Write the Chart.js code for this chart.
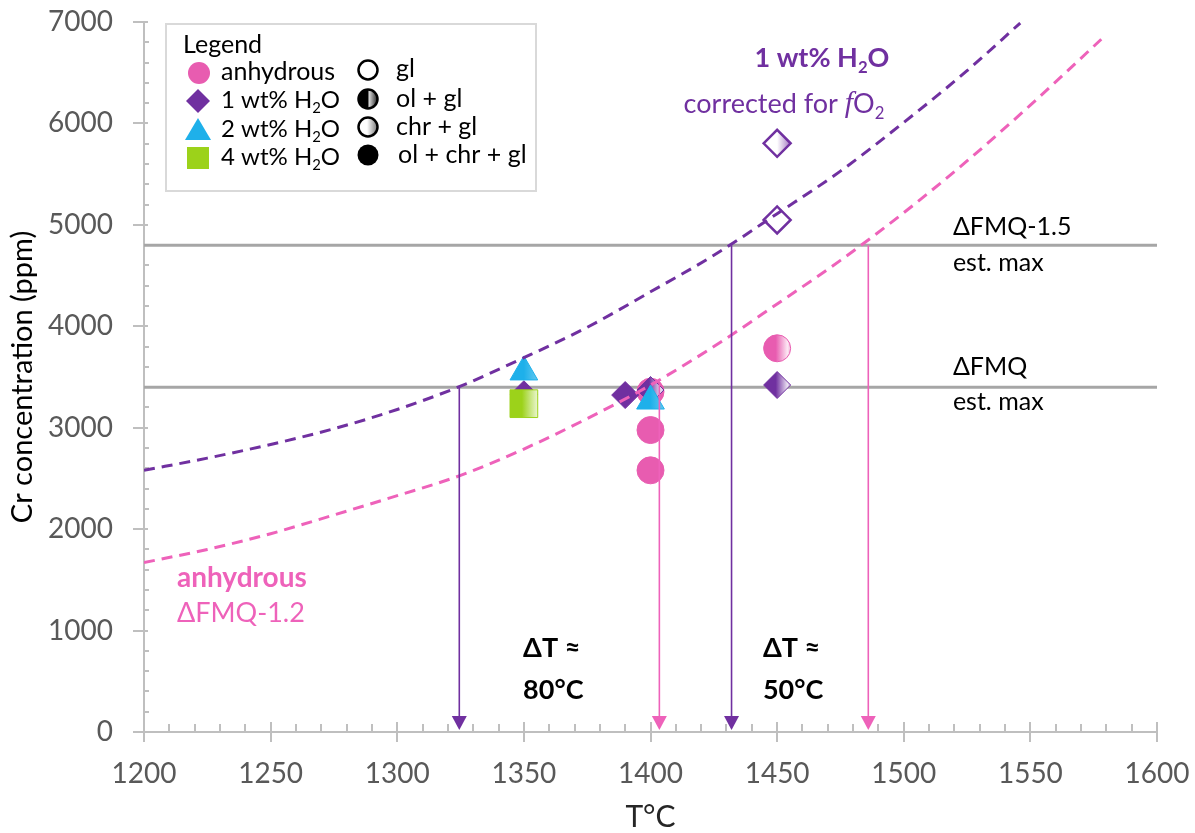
<!DOCTYPE html>
<html><head><meta charset="utf-8">
<script src="https://cdn.jsdelivr.net/npm/chart.js@4.4.1/dist/chart.umd.min.js"></script>
<style>
html,body{margin:0;padding:0;background:#fff;}
#wrap{position:relative;width:1195px;height:833px;}
</style></head><body>
<div id="wrap"><canvas id="c" width="1195" height="833"></canvas></div>
<script>
const FONT = 'Lato, "Open Sans", sans-serif';

// ---- data ----
const anhydrousT = [1400, 1400, 1400, 1450];
const anhydrousCr = [3355, 2977, 2580, 3783];
const anhydrousPhase = ['ol+chr+gl', 'ol+chr+gl', 'ol+chr+gl', 'ol+gl'];

const h2o1T = [1350, 1390, 1400, 1450, 1450, 1450];
const h2o1Cr = [3330, 3322, 3372, 3421, 5048, 5804];
const h2o1Phase = ['ol+chr+gl', 'ol+chr+gl', 'ol+gl', 'ol+gl', 'gl', 'chr+gl'];

const h2o2T = [1350, 1400];
const h2o2Cr = [3550, 3263];
const h2o2Phase = ['subtle', 'subtle'];

const h2o4T = [1350];
const h2o4Cr = [3237];
const h2o4Phase = ['ol+gl'];

// trend curves
const curveH2oT = [1200, 1225, 1250, 1275, 1300, 1325, 1350, 1375, 1400, 1425, 1450, 1475, 1500, 1525, 1546];
const curveH2oCr = [2580, 2700, 2835, 2990, 3180, 3410, 3690, 3990, 4340, 4700, 5110, 5530, 6010, 6520, 6990];
const curveAnhT = [1200, 1225, 1250, 1275, 1300, 1325, 1350, 1375, 1400, 1425, 1450, 1475, 1500, 1525, 1550, 1578];
const curveAnhCr = [1670, 1800, 1955, 2140, 2330, 2530, 2790, 3090, 3420, 3800, 4220, 4650, 5120, 5630, 6180, 6830];

// est. max reference levels
const refLevels = [4800, 3400];

// temperature arrows (x, start level)
const arrowT = [1324.5, 1403.5, 1432, 1486];
const arrowTop = [3400, 3430, 4800, 4800];

// ticks
const xTickValues = [1200, 1250, 1300, 1350, 1400, 1450, 1500, 1550, 1600];
const xTickLabels = ['1200', '1250', '1300', '1350', '1400', '1450', '1500', '1550', '1600'];
const yTickValues = [0, 1000, 2000, 3000, 4000, 5000, 6000, 7000];
const yTickLabels = ['0', '1000', '2000', '3000', '4000', '5000', '6000', '7000'];

// ---- colours ----
const PINK = '#E85CB0';
const PINK_LINE = '#EE62BA';
const PURPLE = '#7030A0';
const CYAN = '#1EB0EA';
const GREEN = '#9CD21A';
const GRAY = '#A6A6A6';

function mix(c1, c2, t) {
  const a = parseInt(c1.slice(1), 16), b = parseInt(c2.slice(1), 16);
  const r = Math.round(((a >> 16) & 255) * (1 - t) + ((b >> 16) & 255) * t);
  const g = Math.round(((a >> 8) & 255) * (1 - t) + ((b >> 8) & 255) * t);
  const bl = Math.round((a & 255) * (1 - t) + (b & 255) * t);
  return `rgb(${r},${g},${bl})`;
}

function makeFill(color, phases, radius) {
  return ctx => {
    if (ctx.type !== 'data') return color;
    const chart = ctx.chart;
    const ph = phases[ctx.dataIndex];
    if (ph === 'ol+chr+gl') return color;
    if (ph === 'gl') return '#ffffff';
    const xs = chart.scales && chart.scales.x;
    const xv = ctx.parsed ? ctx.parsed.x : (ctx.raw ? ctx.raw.x : NaN);
    const px = xs ? xs.getPixelForValue(xv) : NaN;
    if (!isFinite(px)) return color;
    const g = chart.ctx.createLinearGradient(px - radius, 0, px + radius, 0);
    if (ph === 'ol+gl') {
      g.addColorStop(0, color); g.addColorStop(0.45, color);
      g.addColorStop(0.88, mix(color, '#ffffff', 0.85)); g.addColorStop(1, mix(color, '#ffffff', 0.6));
    } else if (ph === 'subtle') {
      g.addColorStop(0, color); g.addColorStop(0.5, color);
      g.addColorStop(1, mix(color, '#ffffff', 0.35));
    } else {
      g.addColorStop(0, '#ffffff'); g.addColorStop(0.5, '#ffffff');
      g.addColorStop(1, mix(color, '#ffffff', 0.35));
    }
    return g;
  };
}
function makeBorderWidth(phases) {
  return ctx => {
    const ph = phases[ctx.dataIndex];
    return (ph === 'gl' || ph === 'chr+gl') ? 2.5 : 1;
  };
}
const pts = (xs, ys) => xs.map((x, i) => ({x, y: ys[i]}));

// ---- text helpers ----
function drawRich(ctx, x, y, segs, opt) {
  let total = 0;
  const parts = segs.map(sg => {
    const s = typeof sg === 'string' ? {t: sg} : sg;
    const size = s.sub ? opt.size * 0.62 : opt.size;
    const font = s.ital ? `italic ${opt.weight} ${size * 1.1}px "Liberation Serif", "DejaVu Serif", serif`
                        : `${opt.weight} ${size}px ${FONT}`;
    ctx.font = font;
    const w = ctx.measureText(s.t).width;
    total += w;
    return {t: s.t, font, w, dy: s.sub ? opt.size * 0.34 : 0};
  });
  let cx = opt.align === 'center' ? x - total / 2 : x;
  ctx.fillStyle = opt.color; ctx.textBaseline = 'middle'; ctx.textAlign = 'left';
  parts.forEach(p => { ctx.font = p.font; ctx.fillText(p.t, cx, y + p.dy); cx += p.w; });
}

// annotations in data coordinates
const notes = [
  {x: 1467.7, y: 6645, segs: ['1 wt% H', {t: '2', sub: 1}, 'O'], size: 27, weight: 'bold', color: PURPLE, align: 'center'},
  {x: 1452.7, y: 6192, segs: ['corrected for ', {t: 'f', ital: 1}, 'O', {t: '2', sub: 1}], size: 27, weight: 'normal', color: PURPLE, align: 'center'},
  {x: 1519.4, y: 4979, segs: ['ΔFMQ-1.5'], size: 25, weight: 'normal', color: '#000', align: 'left'},
  {x: 1519.4, y: 4624, segs: ['est. max'], size: 25, weight: 'normal', color: '#000', align: 'left'},
  {x: 1519.4, y: 3599, segs: ['ΔFMQ'], size: 25, weight: 'normal', color: '#000', align: 'left'},
  {x: 1519.4, y: 3253, segs: ['est. max'], size: 25, weight: 'normal', color: '#000', align: 'left'},
  {x: 1213, y: 1518, segs: ['anhydrous'], size: 28, weight: 'bold', color: PINK_LINE, align: 'left'},
  {x: 1213, y: 1173, segs: ['ΔFMQ-1.2'], size: 27, weight: 'normal', color: PINK_LINE, align: 'left'},
  {x: 1349.7, y: 828, segs: ['ΔT ≈'], size: 27, weight: 'bold', color: '#000', align: 'left'},
  {x: 1349.7, y: 414, segs: ['80°C'], size: 27, weight: 'bold', color: '#000', align: 'left'},
  {x: 1444.4, y: 828, segs: ['ΔT ≈'], size: 27, weight: 'bold', color: '#000', align: 'left'},
  {x: 1444.4, y: 414, segs: ['50°C'], size: 27, weight: 'bold', color: '#000', align: 'left'}
];

const axisTicksPlugin = {
  id: 'axisTicks',
  beforeDatasetsDraw(chart) {
    const {ctx, chartArea: a, scales: {x, y}} = chart;
    ctx.save();
    ctx.strokeStyle = '#BFBFBF'; ctx.lineWidth = 2;
    ctx.beginPath();
    for (let v = x.min; v <= x.max + 0.01; v += 10) {
      const px = Math.round(x.getPixelForValue(v));
      const major = Math.abs(v % 50) < 0.01;
      ctx.moveTo(px, major ? a.bottom + 10 : a.bottom);
      ctx.lineTo(px, a.bottom - (major ? 10 : 8));
    }
    for (let v = y.min; v <= y.max + 0.01; v += 200) {
      const py = Math.round(y.getPixelForValue(v));
      const major = Math.abs(v % 1000) < 0.01;
      ctx.moveTo(major ? a.left - 11 : a.left, py);
      ctx.lineTo(a.left + (major ? 4 : 5), py);
    }
    ctx.stroke();
    ctx.restore();
  },
  afterDatasetsDraw(chart) {
    const {ctx, scales: {x, y}} = chart;
    ctx.save();
    arrowT.forEach((t, i) => {
      const col = i % 2 === 0 ? PURPLE : PINK_LINE;
      const px = x.getPixelForValue(t);
      const top = y.getPixelForValue(arrowTop[i]);
      const tip = y.getPixelForValue(0) - 2;
      ctx.strokeStyle = col; ctx.lineWidth = 1.6;
      ctx.beginPath(); ctx.moveTo(px, top); ctx.lineTo(px, tip - 12); ctx.stroke();
      ctx.fillStyle = col;
      ctx.beginPath(); ctx.moveTo(px - 7.5, tip - 14); ctx.lineTo(px + 7.5, tip - 14); ctx.lineTo(px, tip); ctx.closePath(); ctx.fill();
    });
    notes.forEach(n => {
      drawRich(ctx, x.getPixelForValue(n.x), y.getPixelForValue(n.y), n.segs, n);
    });
    ctx.restore();
  },
  afterDraw(chart) {
    const {ctx, chartArea: a} = chart;
    ctx.save();
    const L = a.left + 22, T = a.top + 2, W = 370, H = 167;
    ctx.fillStyle = '#fff'; ctx.fillRect(L, T, W, H);
    ctx.strokeStyle = '#D9D9D9'; ctx.lineWidth = 2; ctx.strokeRect(L, T, W, H);
    const tx = (s, px, py, sz) => drawRich(ctx, px, py, s, {size: sz || 25, weight: 'normal', color: '#000', align: 'left'});
    tx(['Legend'], L + 17, T + 21);
    const cx = L + 32;
    ctx.fillStyle = PINK; ctx.beginPath(); ctx.arc(cx + 1, T + 49, 11, 0, Math.PI * 2); ctx.fill();
    ctx.fillStyle = PURPLE; ctx.beginPath();
    ctx.moveTo(cx, T + 65); ctx.lineTo(cx + 12, T + 77); ctx.lineTo(cx, T + 89); ctx.lineTo(cx - 12, T + 77); ctx.closePath(); ctx.fill();
    ctx.fillStyle = CYAN; ctx.beginPath();
    ctx.moveTo(cx, T + 94); ctx.lineTo(cx + 13, T + 116); ctx.lineTo(cx - 13, T + 116); ctx.closePath(); ctx.fill();
    ctx.fillStyle = GREEN; ctx.fillRect(cx - 11, T + 123, 22, 22);
    tx(['anhydrous'], L + 55, T + 48);
    tx(['1 wt% H', {t: '2', sub: 1}, 'O'], L + 55, T + 76, 24);
    tx(['2 wt% H', {t: '2', sub: 1}, 'O'], L + 55, T + 105, 24);
    tx(['4 wt% H', {t: '2', sub: 1}, 'O'], L + 55, T + 133, 24);
    const rx = L + 202, r = 9.5;
    const ys = [T + 46, T + 75, T + 103, T + 131];
    ctx.lineWidth = 2.5; ctx.strokeStyle = '#000';
    ctx.fillStyle = '#fff'; ctx.beginPath(); ctx.arc(rx, ys[0], r, 0, Math.PI * 2); ctx.fill(); ctx.stroke();
    let g = ctx.createLinearGradient(rx - r, 0, rx + r, 0);
    g.addColorStop(0, '#000'); g.addColorStop(0.5, '#000'); g.addColorStop(0.55, '#ddd'); g.addColorStop(1, '#222');
    ctx.fillStyle = g; ctx.beginPath(); ctx.arc(rx, ys[1], r, 0, Math.PI * 2); ctx.fill(); ctx.stroke();
    g = ctx.createLinearGradient(rx - r, 0, rx + r, 0);
    g.addColorStop(0, '#fff'); g.addColorStop(0.45, '#fff'); g.addColorStop(1, '#777');
    ctx.fillStyle = g; ctx.beginPath(); ctx.arc(rx, ys[2], r, 0, Math.PI * 2); ctx.fill(); ctx.stroke();
    ctx.fillStyle = '#000'; ctx.beginPath(); ctx.arc(rx, ys[3], r + 1, 0, Math.PI * 2); ctx.fill();
    tx(['gl'], L + 230, ys[0] - 1);
    tx(['ol + gl'], L + 230, ys[1]);
    tx(['chr + gl'], L + 230, ys[2]);
    tx(['ol + chr + gl'], L + 232, ys[3]);
    ctx.restore();
  }
};

const markerDS = (label, xs, ys, phases, color, style, radius, order) => ({
  type: 'scatter', label, data: pts(xs, ys), order,
  pointStyle: style, pointRadius: radius, pointHoverRadius: radius,
  backgroundColor: makeFill(color, phases, radius),
  borderColor: color, borderWidth: makeBorderWidth(phases)
});

const curveDS = (label, xs, ys, color) => ({
  type: 'line', label, data: pts(xs, ys), order: 0,
  borderColor: color, borderWidth: 3, borderDash: [11, 7], pointRadius: 0,
  cubicInterpolationMode: 'monotone', fill: false
});

const refDS = refLevels.map((lvl, i) => ({
  type: 'line', label: 'ref' + i, data: [{x: 1200, y: lvl}, {x: 1600, y: lvl}], order: 10,
  borderColor: GRAY, borderWidth: 3, pointRadius: 0, fill: false
}));

const chart = new Chart(document.getElementById('c'), {
  data: {
    datasets: [
      curveDS('1 wt% H2O corrected', curveH2oT, curveH2oCr, PURPLE),
      curveDS('anhydrous ΔFMQ-1.2', curveAnhT, curveAnhCr, PINK_LINE),
      markerDS('2 wt% H2O', h2o2T, h2o2Cr, h2o2Phase, CYAN, 'triangle', 16, 1),
      markerDS('4 wt% H2O', h2o4T, h2o4Cr, h2o4Phase, GREEN, 'rect', 19.6, 2),
      markerDS('1 wt% H2O', h2o1T, h2o1Cr, h2o1Phase, PURPLE, 'rectRot', 13.5, 3),
      markerDS('anhydrous', anhydrousT, anhydrousCr, anhydrousPhase, PINK, 'circle', 13.5, 4),
      ...refDS
    ]
  },
  options: {
    responsive: false, devicePixelRatio: 1, animation: false, events: [],
    layout: {autoPadding: false, padding: {left: 0, right: 38, top: 22, bottom: 0}},
    plugins: {legend: {display: false}, tooltip: {enabled: false}},
    scales: {
      x: {
        type: 'linear', min: 1200, max: 1600,
        afterBuildTicks: s => { s.ticks = xTickValues.map(v => ({value: v})); },
        afterFit: s => { s.height = 101; s.paddingLeft = 0; s.paddingRight = 0; },
        grid: {display: false, drawTicks: false},
        border: {display: true, color: '#BFBFBF', width: 2},
        ticks: {padding: 25, color: '#595959', font: {family: FONT, size: 28}, callback: (v, i) => xTickLabels[i]},
        title: {display: true, text: 'T°C', color: '#262626', font: {family: FONT, size: 30}, padding: {top: 0, bottom: -2}}
      },
      y: {
        type: 'linear', min: 0, max: 7000,
        afterBuildTicks: s => { s.ticks = yTickValues.map(v => ({value: v})); },
        afterFit: s => { s.width = 144; s.paddingTop = 0; s.paddingBottom = 0; },
        grid: {display: false, drawTicks: false},
        border: {display: true, color: '#BFBFBF', width: 2},
        ticks: {padding: 31, color: '#595959', font: {family: FONT, size: 28}, callback: (v, i) => yTickLabels[i]},
        title: {display: true, text: 'Cr concentration (ppm)', color: '#000', font: {family: FONT, size: 29}, padding: {top: 5, bottom: 0}}
      }
    }
  },
  plugins: [axisTicksPlugin]
});
chart.update();
</script>
</body></html>
